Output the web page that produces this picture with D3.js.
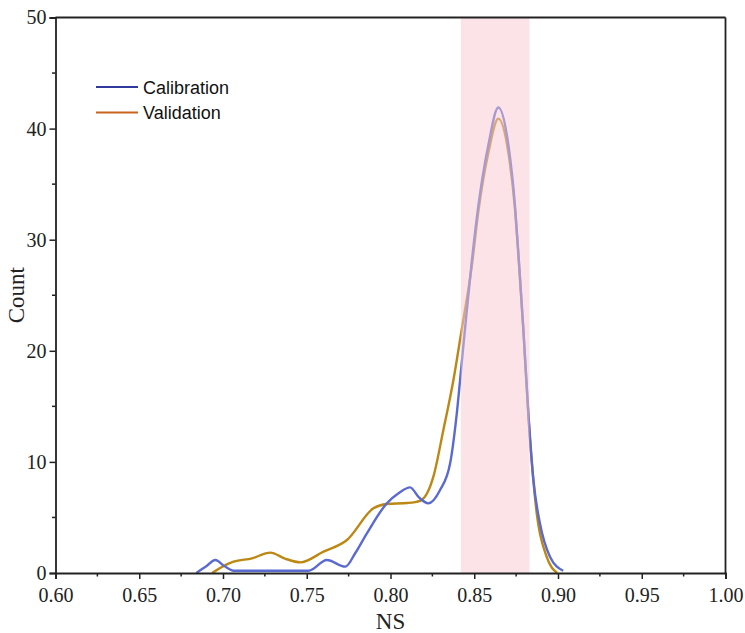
<!DOCTYPE html>
<html>
<head>
<meta charset="utf-8">
<script src="https://cdn.jsdelivr.net/npm/d3@7"></script>
<style>
  html, body { margin: 0; padding: 0; background: #fff; }
  svg { display: block; }
</style>
</head>
<body>
<svg id="chart" width="745" height="633"></svg>
<script>
// ---- data ----
const xTicks = [0.60, 0.65, 0.70, 0.75, 0.80, 0.85, 0.90, 0.95, 1.00];
const yTicks = [0, 10, 20, 30, 40, 50];
const seriesNames = ["Calibration", "Validation"];
const bandRange = [0.842, 0.883];

const calibrationNS = [0.6841, 0.6900, 0.6954, 0.7010, 0.7063, 0.7300, 0.7511, 0.7620, 0.7730, 0.7790,
  0.7859, 0.7978, 0.8050, 0.8117, 0.8170, 0.8226, 0.8296, 0.8356, 0.8396, 0.8425, 0.8445, 0.8485,
  0.8525, 0.8584, 0.8644, 0.8704, 0.8743, 0.8767, 0.8793, 0.8823, 0.8853, 0.8892, 0.8952, 0.9031];
const calibrationCount = [0.0, 0.6, 1.17, 0.6, 0.2, 0.2, 0.2, 1.17, 0.57, 1.8,
  3.57, 6.27, 7.2, 7.71, 6.8, 6.27, 7.47, 9.87, 14.4, 18.9, 22.0, 28.0,
  33.1, 38.5, 41.9, 38.5, 33.1, 28.0, 22.0, 14.4, 8.4, 4.47, 1.47, 0.2];

const validationNS = [0.6935, 0.7000, 0.7063, 0.7173, 0.7282, 0.7370, 0.7461, 0.7600, 0.7740, 0.7898,
  0.7978, 0.8100, 0.8177, 0.8256, 0.8316, 0.8376, 0.8425, 0.8485, 0.8525, 0.8584, 0.8644, 0.8704,
  0.8743, 0.8767, 0.8793, 0.8823, 0.8873, 0.8932, 0.8995];
const validationCount = [0.0, 0.6, 1.02, 1.32, 1.83, 1.3, 0.96, 1.92, 2.97, 5.82,
  6.21, 6.3, 6.5, 8.67, 12.9, 17.4, 21.9, 27.6, 32.6, 37.8, 40.9, 37.8,
  32.8, 27.8, 21.9, 14.2, 5.37, 1.47, 0.0];

// ---- layout ----
const svg = d3.select("#chart");
const margin = { left: 55.5, right: 745 - 725.5, top: 17.5, bottom: 633 - 573 };
const W = 745, H = 633;
const x = d3.scaleLinear().domain([0.6, 1.0]).range([margin.left, W - margin.right]);
const y = d3.scaleLinear().domain([0, 50]).range([H - margin.bottom, margin.top]);

const colors = { Calibration: "#5a6ad0", Validation: "#bd8714" };
const legendColors = { Calibration: "#2f3a9c", Validation: "#c9641f" };

const line = d3.line().x(d => x(d[0])).y(d => y(d[1])).curve(d3.curveMonotoneX);

const cal = calibrationNS.map((v, i) => [v, calibrationCount[i]]);
const val = validationNS.map((v, i) => [v, validationCount[i]]);

svg.append("path").datum(val).attr("d", line)
  .attr("fill", "none").attr("stroke", colors.Validation).attr("stroke-width", 2.4);
svg.append("path").datum(cal).attr("d", line)
  .attr("fill", "none").attr("stroke", colors.Calibration).attr("stroke-width", 2.4);

// shaded band on top
svg.append("rect")
  .attr("x", x(bandRange[0])).attr("width", x(bandRange[1]) - x(bandRange[0]))
  .attr("y", y(50)).attr("height", y(0) - y(50))
  .attr("fill", "#f7c7d1").attr("opacity", 0.5);

// ---- axes ----
const axisColor = "#222";
const xAxis = d3.axisBottom(x).tickValues(xTicks).tickFormat(d3.format(".2f")).tickSize(6).tickPadding(9);
const gx = svg.append("g").attr("transform", `translate(0,${y(0)})`).call(xAxis);
const yAxis = d3.axisLeft(y).tickValues(yTicks).tickFormat(d3.format("d")).tickSize(6).tickPadding(3);
const gy = svg.append("g").attr("transform", `translate(${x(0.6)},0)`).call(yAxis);

// minor ticks
const xMinor = xTicks.slice(0, -1).map(d => d + 0.025);
svg.append("g").selectAll("line").data(xMinor).join("line")
  .attr("x1", d => x(d)).attr("x2", d => x(d))
  .attr("y1", y(0)).attr("y2", y(0) + 3.5)
  .attr("stroke", axisColor).attr("stroke-width", 1.5);
const yMinor = yTicks.slice(0, -1).map(d => d + 5);
svg.append("g").selectAll("line").data(yMinor).join("line")
  .attr("y1", d => y(d)).attr("y2", d => y(d))
  .attr("x1", x(0.6)).attr("x2", x(0.6) - 3.5)
  .attr("stroke", axisColor).attr("stroke-width", 1.5);

[gx, gy].forEach(g => {
  g.select(".domain").attr("stroke", axisColor).attr("stroke-width", 1.8);
  g.selectAll(".tick line").attr("stroke", axisColor).attr("stroke-width", 1.5);
  g.selectAll(".tick text").attr("fill", "#222")
    .style("font-family", "'Liberation Serif', 'Times New Roman', serif").style("font-size", "20px");
});

// frame top & right
svg.append("line").attr("x1", x(0.6)).attr("x2", x(1.0)).attr("y1", y(50)).attr("y2", y(50))
  .attr("stroke", axisColor).attr("stroke-width", 1.8);
svg.append("line").attr("x1", x(1.0)).attr("x2", x(1.0)).attr("y1", y(50)).attr("y2", y(0))
  .attr("stroke", axisColor).attr("stroke-width", 1.8);

// axis titles
svg.append("text").attr("x", (x(0.6) + x(1.0)) / 2).attr("y", 629)
  .attr("text-anchor", "middle").attr("fill", "#222")
  .style("font-family", "'Liberation Serif', 'Times New Roman', serif").style("font-size", "23px")
  .text("NS");
svg.append("text").attr("transform", `translate(24,${(y(0) + y(50)) / 2}) rotate(-90)`)
  .attr("text-anchor", "middle").attr("fill", "#222")
  .style("font-family", "'Liberation Serif', 'Times New Roman', serif").style("font-size", "23px")
  .text("Count");

// legend
const lg = svg.append("g");
seriesNames.forEach((name, i) => {
  const yy = 87 + i * 25.5;
  lg.append("line").attr("x1", 96).attr("x2", 138).attr("y1", yy).attr("y2", yy)
    .attr("stroke", legendColors[name]).attr("stroke-width", 2.2);
  lg.append("text").attr("x", 143).attr("y", yy + 6.5).attr("fill", "#111")
    .style("font-family", "'Liberation Sans', Arial, sans-serif").style("font-size", "18px")
    .text(name);
});
</script>
</body>
</html>
